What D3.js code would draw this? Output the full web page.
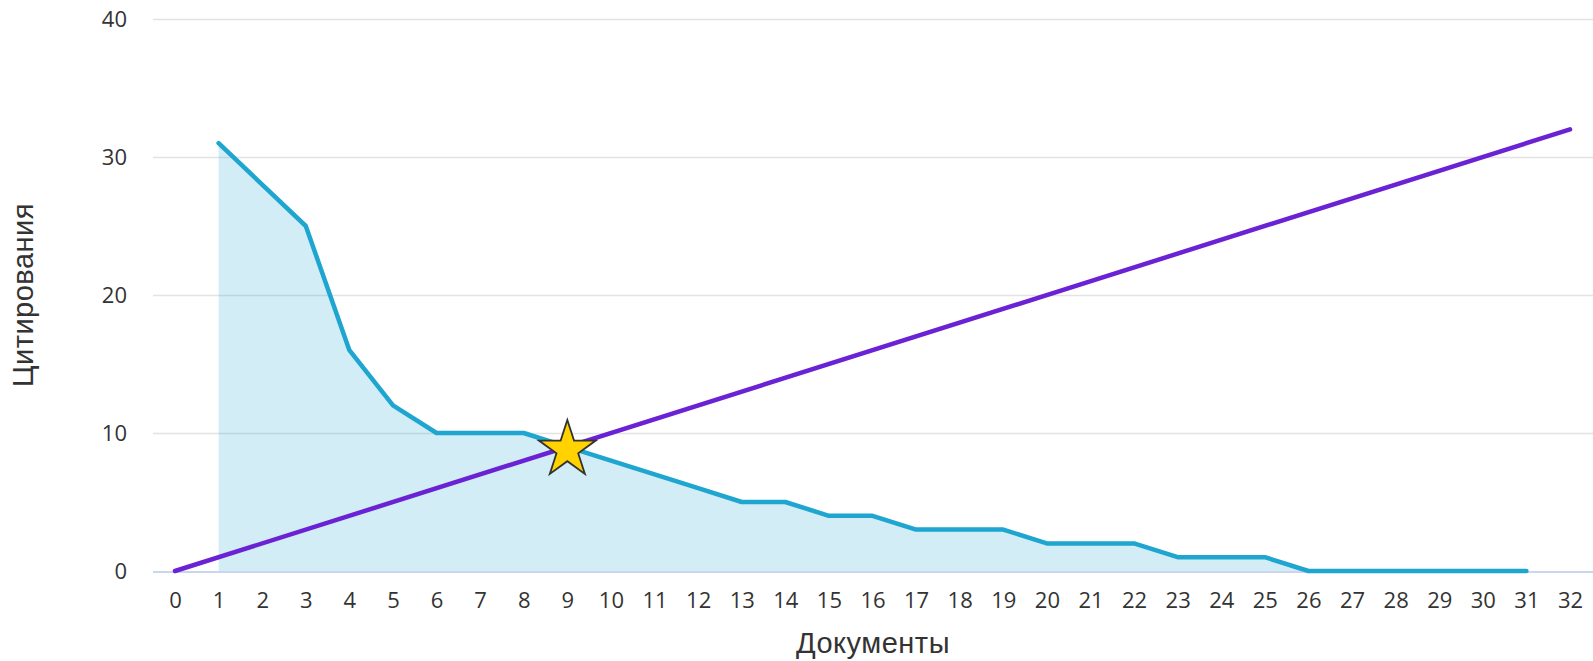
<!DOCTYPE html>
<html>
<head>
<meta charset="utf-8">
<script src="https://cdn.jsdelivr.net/npm/d3@7"></script>
<style>
  body { margin: 0; background: #fff; }
  svg { display: block; }
  .tick text { font-family: "Open Sans", sans-serif; font-size: 22px; fill: #333; }
  .title { font-family: "Liberation Sans", Arial, sans-serif; font-size: 29px; fill: #333; letter-spacing: 0.5px; }
</style>
</head>
<body>
<svg width="1593" height="661"></svg>
<script>
// documents ranked by citations (h-index plot)
var docs = [1, 2, 3, 4, 5, 6, 7, 8, 9, 10, 11, 12, 13, 14, 15, 16, 17, 18, 19, 20, 21, 22, 23, 24, 25, 26, 27, 28, 29, 30, 31];
var citations = [31, 28, 25, 16, 12, 10, 10, 10, 9, 8, 7, 6, 5, 5, 4, 4, 3, 3, 3, 2, 2, 2, 1, 1, 1, 0, 0, 0, 0, 0, 0];
var diagX = [0, 32];
var diagY = [0, 32];
var hIndex = [9, 9];
var yTicks = [0, 10, 20, 30, 40];
var xTicks = d3.range(0, 33);

var svg = d3.select("svg"),
  width = +svg.attr("width"),
  height = +svg.attr("height");

var x = d3.scaleLinear().domain([0, 32]).range([175, 1570]);
var y = d3.scaleLinear().domain([0, 40]).range([571, 19]);

var plotLeft = 153, plotRight = width;

// grid
svg.append("g")
  .selectAll("line")
  .data(yTicks.filter(function(d) { return d > 0; }))
  .enter().append("line")
    .attr("x1", plotLeft).attr("x2", plotRight)
    .attr("y1", function(d) { return y(d) + 0.5; })
    .attr("y2", function(d) { return y(d) + 0.5; })
    .attr("stroke", "#e3e3e3")
    .attr("stroke-width", 1.5);

var pts = docs.map(function(d, i) { return [d, citations[i]]; });

// area under citations
svg.append("path")
  .datum(pts)
  .attr("fill", "#1ea5d0")
  .attr("fill-opacity", 0.2)
  .attr("d", d3.area()
    .x(function(d) { return x(d[0]); })
    .y0(y(0))
    .y1(function(d) { return y(d[1]); }));

// baseline axis
svg.append("line")
  .attr("x1", plotLeft).attr("x2", plotRight)
  .attr("y1", y(0) + 1).attr("y2", y(0) + 1)
  .attr("stroke", "#ccd6eb")
  .attr("stroke-width", 2);

// y axis labels
var yAxis = svg.append("g")
  .attr("transform", "translate(127,0)")
  .call(d3.axisLeft(y).tickValues(yTicks).tickSize(0).tickPadding(0));
yAxis.select(".domain").remove();
yAxis.selectAll("text").attr("dy", "0.35em");

// x axis labels
var xAxis = svg.append("g")
  .attr("transform", "translate(0,600)")
  .call(d3.axisBottom(x).tickValues(xTicks).tickSize(0).tickPadding(0));
xAxis.select(".domain").remove();
xAxis.selectAll("text").attr("y", 0).attr("dy", "0.35em");

// citations line
svg.append("path")
  .datum(pts)
  .attr("fill", "none")
  .attr("stroke", "#1ea5d0")
  .attr("stroke-width", 4.5)
  .attr("stroke-linejoin", "round")
  .attr("stroke-linecap", "round")
  .attr("d", d3.line()
    .x(function(d) { return x(d[0]); })
    .y(function(d) { return y(d[1]); }));

// diagonal y = x
svg.append("path")
  .datum(diagX.map(function(d, i) { return [d, diagY[i]]; }))
  .attr("fill", "none")
  .attr("stroke", "#6a22d4")
  .attr("stroke-width", 4.5)
  .attr("stroke-linecap", "round")
  .attr("d", d3.line()
    .x(function(d) { return x(d[0]); })
    .y(function(d) { return y(d[1]); }));

// h-index star
svg.append("path")
  .attr("d", d3.symbol().type(d3.symbolStar).size(1000)())
  .attr("transform", "translate(" + x(hIndex[0]) + "," + (y(hIndex[1]) + 3) + ")")
  .attr("fill", "#ffd200")
  .attr("stroke", "#333")
  .attr("stroke-width", 1.8)
  .attr("stroke-linejoin", "miter");

// axis titles
svg.append("text")
  .attr("class", "title")
  .attr("x", (plotLeft + plotRight) / 2)
  .attr("y", 653)
  .attr("text-anchor", "middle")
  .text("Документы");

svg.append("text")
  .attr("class", "title")
  .attr("transform", "translate(33,295) rotate(-90)")
  .attr("text-anchor", "middle")
  .text("Цитирования");
</script>
</body>
</html>
